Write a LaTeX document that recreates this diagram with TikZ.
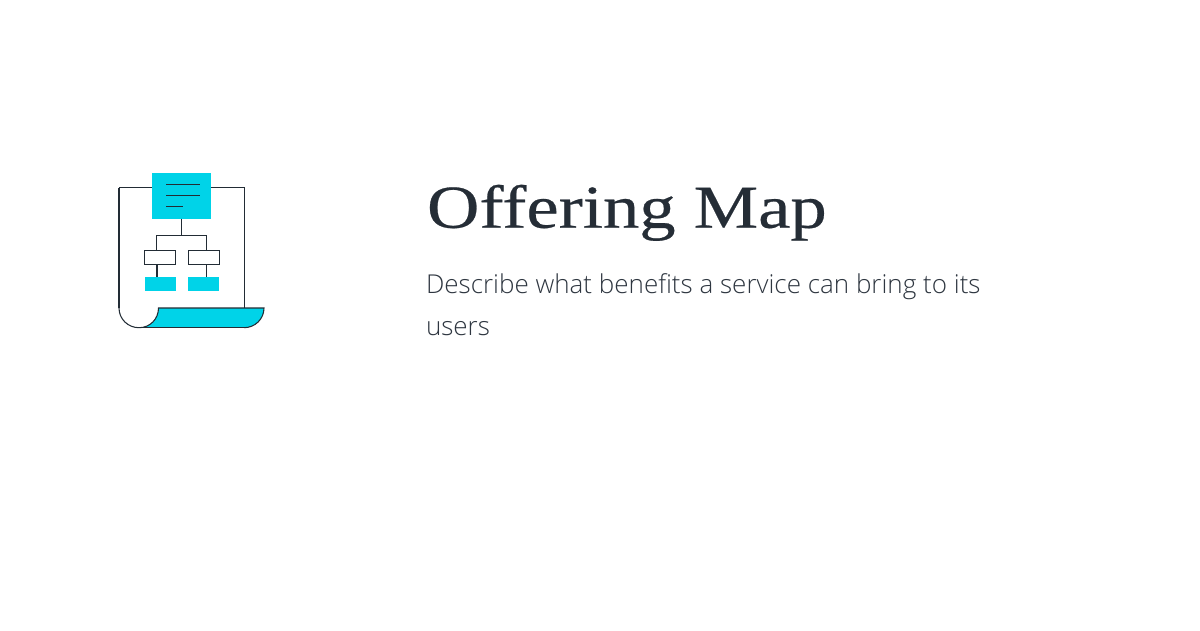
\documentclass[tikz,border=0pt]{standalone}
\usepackage{fontspec}
\newfontfamily\titlefont[FakeStretch=1.19,FakeBold=0.4]{Liberation Serif}
\newfontfamily\subfont{Open Sans Light}
\definecolor{cy}{HTML}{00D3E8}
\definecolor{ink}{HTML}{222C35}
\definecolor{ttl}{HTML}{252D36}
\definecolor{sub}{HTML}{2E3640}
\tikzset{
  wire/.style={draw=ink,line width=1.05pt},
  cybox/.style={fill=cy,draw=none,inner sep=0pt,outer sep=0pt},
  whitebox/.style={draw=ink,fill=white,line width=1.05pt,inner sep=0pt,outer sep=0pt,minimum width=31.5pt,minimum height=14.5pt},
  lbl/.style={anchor=base west,inner sep=0pt,outer sep=0pt}
}
\begin{document}
\begin{tikzpicture}[x=1pt,y=-1pt]
\useasboundingbox (0,0) rectangle (1200,630);
\fill[white] (0,0) rectangle (1200,630);
% curled sheet underside
\fill[cy] (139,327.7) .. controls (150,327.7) and (158.5,319) .. (158.5,308) -- (264,308) .. controls (264,319) and (255,327.7) .. (244,327.7) -- cycle;
\path[wire] (139,327.7) -- (244,327.7);
% paper
\path[wire] (119,187.7) -- (244.7,187.7) -- (244.7,308);
\path[wire] (119,187.7) -- (119,308);
\path[wire] (119,308) .. controls (119,319) and (128,327.7) .. (139,327.7) .. controls (150,327.7) and (158.5,319) .. (158.5,308) -- (264,308) .. controls (264,319) and (255,327.7) .. (244,327.7);
% top card
\node[cybox,minimum width=59pt,minimum height=45.5pt] (card) at (181.9,195.8) {};
\path[wire] (166,184.7) -- (199.7,184.7);
\path[wire] (166,195.7) -- (199.7,195.7);
\path[wire] (166,206.7) -- (183,206.7);
% chart
\node[whitebox] (boxl) at (160,257.7) {};
\node[whitebox] (boxr) at (203.9,257.7) {};
\node[cybox,minimum width=31pt,minimum height=14pt] (cyl) at (160,284) {};
\node[cybox,minimum width=31pt,minimum height=14pt] (cyr) at (203.7,284) {};
\coordinate (bus) at (181.9,235.5);
\coordinate (busl) at (156.3,235.5);
\coordinate (busr) at (206.7,235.5);
\path[wire] (card.south) -- (bus);
\path[wire] (busl |- boxl.north) -- (busl) -- (busr) -- (busr |- boxr.north);
\coordinate (stl) at (157,0);
\path[wire] (stl |- boxl.south) -- (stl |- cyl.north);
\path[wire] (busr |- boxr.south) -- (busr |- cyr.north);
% text
\node[lbl,text=ttl,font=\titlefont\fontsize{61}{61}\selectfont] (title) at (427,227.7) {Offering Map};
\node[lbl,text=sub,font=\subfont\fontsize{26}{26}\selectfont] (s1) at (426,293) {Describe what benefits a service can bring to its};
\node[lbl,text=sub,font=\subfont\fontsize{26}{26}\selectfont] (s2) at (426,335) {users};
\end{tikzpicture}
\end{document}
